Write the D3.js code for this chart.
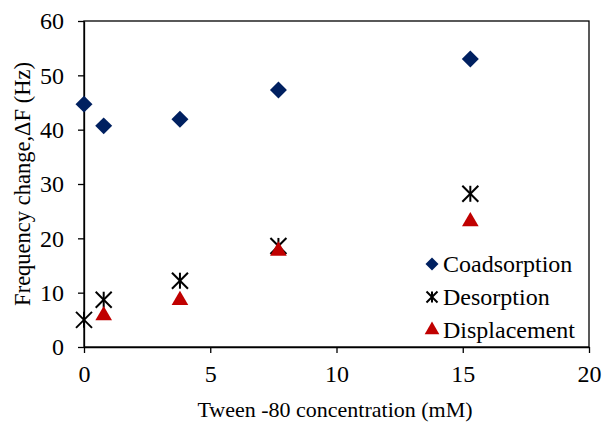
<!DOCTYPE html>
<html lang="en">
<head>
<script src="https://d3js.org/d3.v7.min.js"></script>
<style>
	body { margin: 0; background: #fff; }
	svg { display: block; }
	svg text { font-family: "Liberation Serif", "Times New Roman", "DejaVu Serif", serif; fill: #000; }
	.axis path, .axis line { stroke: #000; stroke-width: 1.3px; }
	.axis text { font-size: 24px; }
</style>
</head>
<body>
<div id="chart"></div>
<script>
var width = 603, height = 422;
var margin = {top: 21, right: 14, bottom: 75, left: 84};

// tween-80 concentrations (mM)
var conc = [0, 0.78, 3.8, 7.7, 15.3];
var coadsorption = [44.7, 40.7, 41.9, 47.3, 53.0];
var desorption = [5.0, 8.7, 12.2, 18.6, 28.2];
var dispConc = [0.78, 3.8, 7.7, 15.3];
var displacement = [5.8, 8.6, 17.7, 23.1];
var xTicks = [0, 5, 10, 15, 20];
var yTicks = [0, 10, 20, 30, 40, 50, 60];

var svg = d3.select("#chart").append("svg")
	.attr("width", width)
	.attr("height", height);

var x = d3.scaleLinear().domain([0, 20]).range([margin.left, width - margin.right]);
var y = d3.scaleLinear().domain([0, 60]).range([height - margin.bottom, margin.top]);

// frame
svg.append("rect")
	.attr("x", x(0)).attr("y", y(60))
	.attr("width", x(20) - x(0)).attr("height", y(0) - y(60))
	.style("fill", "none").style("stroke", "#000").style("stroke-width", 1.3);

var xAxis = svg.append("g").attr("class", "axis")
	.attr("transform", "translate(0," + y(0) + ")")
	.call(d3.axisBottom(x).tickValues(xTicks).tickSize(6).tickPadding(12).tickSizeOuter(0));

var yAxis = svg.append("g").attr("class", "axis")
	.attr("transform", "translate(" + x(0) + ",0)")
	.call(d3.axisLeft(y).tickValues(yTicks).tickSize(6).tickPadding(14).tickSizeOuter(0));

xAxis.attr("font-family", null).attr("font-size", null);
yAxis.attr("font-family", null).attr("font-size", null);

// axis titles
svg.append("text")
	.attr("x", 335).attr("y", 417)
	.attr("text-anchor", "middle")
	.style("font-size", "22px")
	.text("Tween -80 concentration (mM)");

svg.append("text")
	.attr("transform", "translate(30," + ((y(0) + y(60)) / 2) + ") rotate(-90)")
	.attr("text-anchor", "middle")
	.style("font-size", "22.5px")
	.text("Frequency change,\u0394F (Hz)");

var diamond = d3.symbol().type(d3.symbolSquare).size(144);
var tri = d3.symbol().type(d3.symbolTriangle).size(120);

function star(g, r) {
	g.append("line").attr("x1", -r).attr("y1", -r).attr("x2", r).attr("y2", r);
	g.append("line").attr("x1", -r).attr("y1", r).attr("x2", r).attr("y2", -r);
	g.append("line").attr("x1", 0).attr("y1", -r).attr("x2", 0).attr("y2", r);
	g.selectAll("line").style("stroke", "#000").style("stroke-width", 2);
}

svg.selectAll(".coad")
	.data(coadsorption)
	.enter().append("path")
	.attr("class", "coad")
	.attr("d", diamond)
	.attr("transform", function(d, i) { return "translate(" + x(conc[i]) + "," + y(d) + ") rotate(45)"; })
	.style("fill", "#002060");

svg.selectAll(".desorb")
	.data(desorption)
	.enter().append("g")
	.attr("class", "desorb")
	.attr("transform", function(d, i) { return "translate(" + x(conc[i]) + "," + y(d) + ")"; })
	.each(function() { star(d3.select(this), 8); });

svg.selectAll(".disp")
	.data(displacement)
	.enter().append("path")
	.attr("class", "disp")
	.attr("d", tri)
	.attr("transform", function(d, i) { return "translate(" + x(dispConc[i]) + "," + y(d) + ")"; })
	.style("fill", "#c00000");

// legend
var legend = [
	{name: "Coadsorption", y: 264},
	{name: "Desorption", y: 297},
	{name: "Displacement", y: 330}
];

var lg = svg.selectAll(".legend")
	.data(legend)
	.enter().append("g")
	.attr("class", "legend")
	.attr("transform", function(d) { return "translate(432," + d.y + ")"; });

lg.append("text")
	.attr("x", 11).attr("dy", "0.35em")
	.style("font-size", "24px")
	.text(function(d) { return d.name; });

lg.filter(function(d, i) { return i == 0; })
	.append("path")
	.attr("d", d3.symbol().type(d3.symbolSquare).size(85))
	.attr("transform", "rotate(45)")
	.style("fill", "#002060");

lg.filter(function(d, i) { return i == 1; })
	.each(function() { star(d3.select(this), 5.5); });

lg.filter(function(d, i) { return i == 2; })
	.append("path")
	.attr("d", d3.symbol().type(d3.symbolTriangle).size(93))
	.style("fill", "#c00000");
</script>
</body>
</html>
